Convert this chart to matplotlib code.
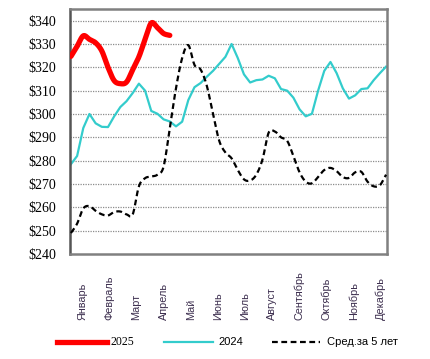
import numpy as np
import matplotlib
matplotlib.use("Agg")
import matplotlib.pyplot as plt
from matplotlib.lines import Line2D

# weekly prices, $/t
y2025 = [324.7, 329.0, 333.5, 332.0, 330.5, 327.0, 320.0, 314.3, 313.0, 313.7,
         319.0, 324.5, 332.0, 339.0, 337.0, 334.5, 333.7]

y2024 = [278.5, 282.0, 294.0, 300.0, 296.0, 294.5, 294.4, 299.0, 303.0, 305.5,
         309.0, 313.0, 310.0, 301.3, 300.1, 297.7, 296.8, 294.7, 296.7, 306.0,
         311.5, 313.3, 316.0, 318.5, 321.5, 324.5, 330.0, 324.0, 317.0, 313.5,
         314.5, 314.8, 316.4, 315.3, 310.7, 310.0, 307.0, 302.0, 299.0, 300.1,
         310.0, 318.5, 322.3, 317.5, 311.0, 306.6, 308.0, 310.7, 311.0, 314.5,
         317.5, 320.3]

avg5 = [249.0, 253.0, 259.5, 260.5, 258.5, 257.0, 256.5, 258.0, 258.2, 257.0,
        257.0, 269.0, 272.5, 273.2, 274.0, 277.5, 294.0, 311.0, 324.0, 329.5,
        321.0, 319.0, 312.0, 300.0, 288.5, 283.5, 281.0, 276.0, 272.0, 271.5,
        274.0, 280.5, 292.0, 292.5, 290.0, 288.5, 282.0, 275.0, 271.0, 270.3,
        273.0, 276.0, 276.9, 275.5, 273.0, 272.6, 275.0, 275.2, 271.0, 269.0,
        269.5, 274.0]

months = ["Январь", "Февраль", "Март", "Апрель", "Май", "Июнь", "Июль",
          "Август", "Сентябрь", "Октябрь", "Ноябрь", "Декабрь"]
yticks = list(range(240, 350, 10))


def smooth(y, n=12):
    # catmull-rom through the weekly points, like Excel's smoothed line
    y = np.asarray(y, float)
    x = np.arange(len(y), dtype=float)
    px = np.concatenate([[2 * x[0] - x[1]], x, [2 * x[-1] - x[-2]]])
    py = np.concatenate([[2 * y[0] - y[1]], y, [2 * y[-1] - y[-2]]])
    xs, ys = [], []
    t = np.linspace(0, 1, n, endpoint=False)
    for i in range(1, len(px) - 2):
        for p, out in ((px, xs), (py, ys)):
            p0, p1, p2, p3 = p[i - 1], p[i], p[i + 1], p[i + 2]
            out.append(0.5 * (2 * p1 + (-p0 + p2) * t
                              + (2 * p0 - 5 * p1 + 4 * p2 - p3) * t ** 2
                              + (-p0 + 3 * p1 - 3 * p2 + p3) * t ** 3))
    xs.append([x[-1]])
    ys.append([y[-1]])
    return np.concatenate(xs), np.concatenate(ys)


W, H = 431, 359
fig = plt.figure(figsize=(W / 100, H / 100), dpi=100)
ax = fig.add_axes([70 / W, 1 - 254 / H, 317 / W, 245 / H])

ax.set_ylim(240, 345)
ax.set_xlim(-0.15, 51.15)
ax.set_yticks(yticks)
ax.set_yticklabels([f"${v}" for v in yticks], family="Liberation Serif", fontsize=10)
ax.tick_params(axis="y", length=0, pad=10)
ax.set_xticks([])
for v in yticks[1:]:
    ax.axhline(v, color="#8c8c8c", lw=0.9, ls=(0, (1, 1)), zorder=0)

for s in ax.spines.values():
    s.set_color("#808080")
    s.set_linewidth(1.8)
ax.spines["left"].set_color("#555555")

ax.plot(np.arange(len(y2024)), y2024, color="#33cccc", lw=1.6, zorder=2)
xs, ys = smooth(avg5)
ax.plot(xs, ys, color="black", lw=1.6, ls=(0, (2.6, 1.6)), zorder=3)
xs, ys = smooth(y2025)
ax.plot(xs, ys, color="#ff0000", lw=3.8, solid_capstyle="round", zorder=4)

# month labels, rotated, bottoms aligned
for i, m in enumerate(months):
    ax.text(1.8 + 4.4 * i, -(320 - 254) / 245, m, transform=ax.get_xaxis_transform(),
            rotation=90, ha="center", va="bottom", fontsize=7.8,
            family="Liberation Sans", color="#3d2f4f")

# legend
ly = 1 - 342 / H
fig.add_artist(Line2D([57 / W, 107 / W], [ly, ly], color="#ff0000", lw=3.8,
                      transform=fig.transFigure))
fig.text(111 / W, ly, "2025", family="Liberation Serif", fontsize=8.5, va="center")
fig.add_artist(Line2D([164 / W, 213 / W], [ly, ly], color="#33cccc", lw=1.6,
                      transform=fig.transFigure))
fig.text(218 / W, ly, "2024", family="Liberation Sans", fontsize=8, va="center")
fig.add_artist(Line2D([272 / W, 320 / W], [ly, ly], color="black", lw=1.6,
                      ls=(0, (2.6, 1.6)), transform=fig.transFigure))
fig.text(327 / W, ly, "Сред.за 5 лет", family="Liberation Sans", fontsize=8, va="center")

fig.savefig("out.png", dpi=100)
